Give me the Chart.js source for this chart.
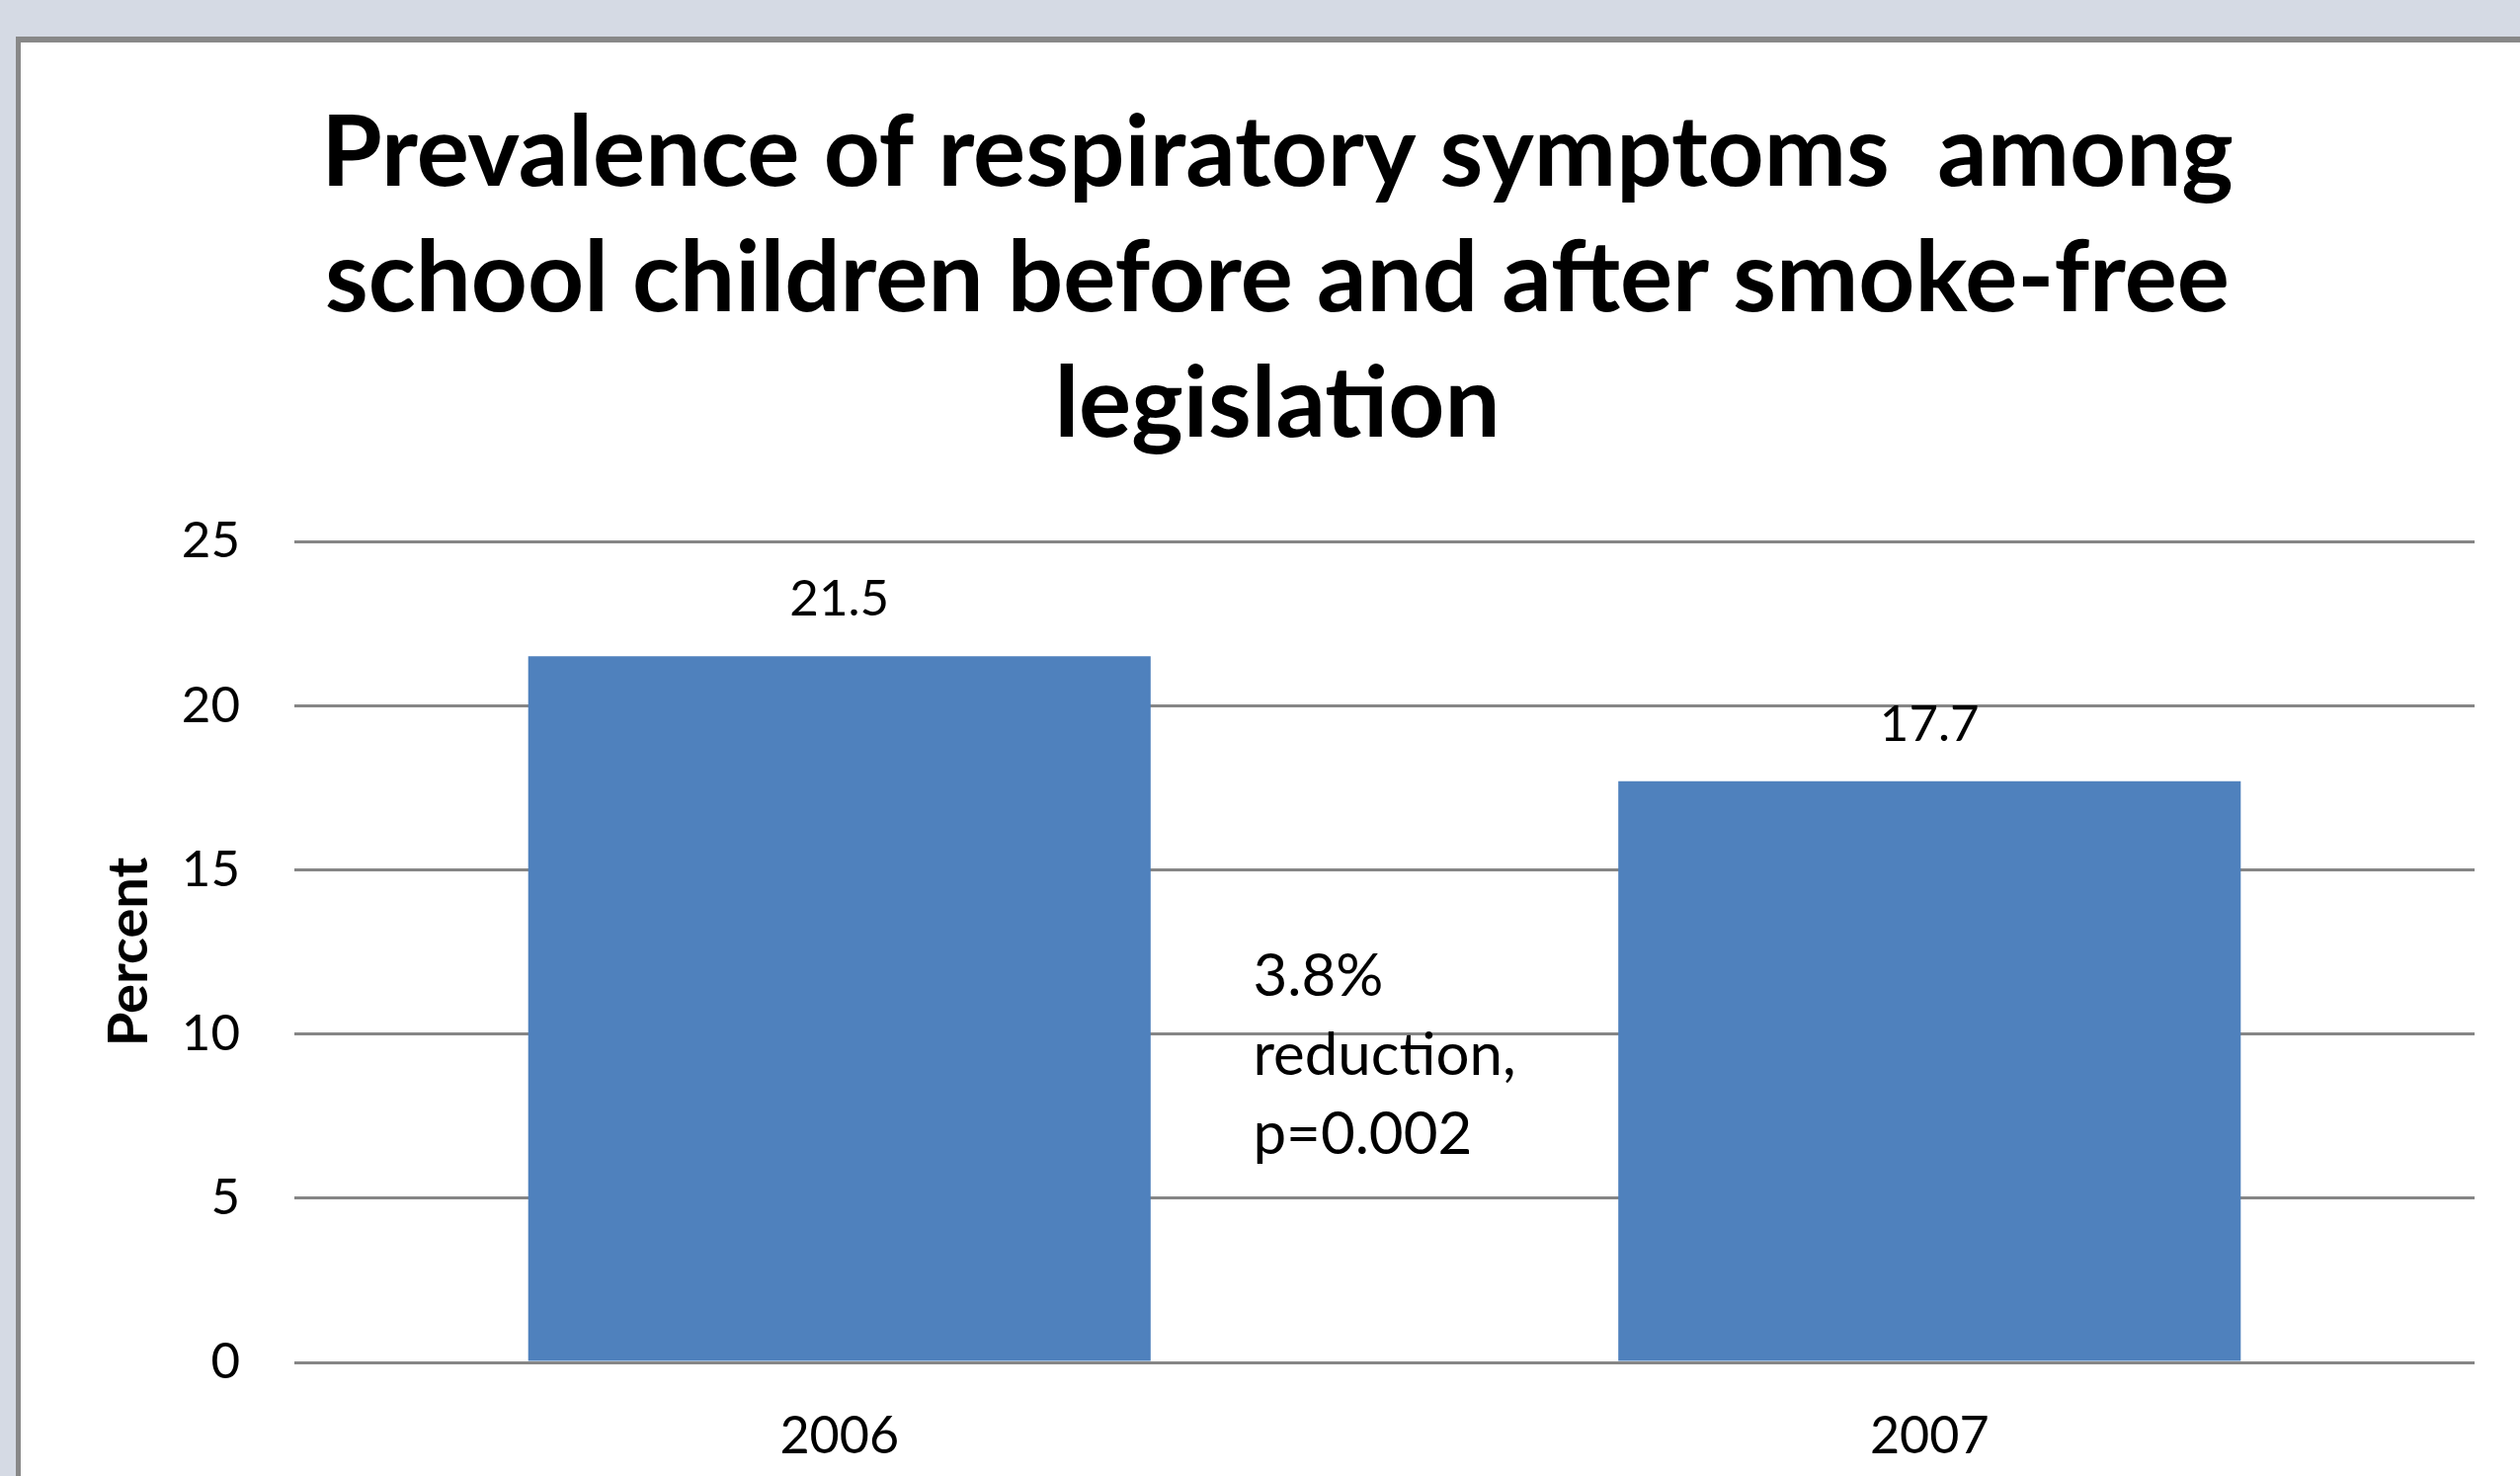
<!DOCTYPE html>
<html>
<head>
<meta charset="utf-8">
<title>Prevalence of respiratory symptoms</title>
<script src="https://cdn.jsdelivr.net/npm/chart.js@4.4.1/dist/chart.umd.min.js"></script>
<style>
  html, body { margin: 0; padding: 0; width: 2551px; height: 1494px; overflow: hidden; background: #d5dae4; }
  #panel { position: absolute; left: 16px; top: 37px; width: 2600px; height: 1500px;
           background: #ffffff; border-left: 5px solid #888888; border-top: 6px solid #888888; }
  #chart { position: absolute; left: 0; top: 0; }
</style>
</head>
<body>
<div id="panel"></div>
<canvas id="chart" width="2551" height="1494"></canvas>
<script>
// Survey years and share of children with respiratory symptoms (%)
const years = ['2006', '2007'];
const prevalence = [21.5, 17.7];

// Value axis range and step
const yMin = 0;
const yMax = 25;
const yStep = 5;

const titleLines = [
  'Prevalence of respiratory symptoms  among',
  'school children before and after smoke-free',
  'legislation'
];
const yAxisTitle = 'Percent';
const noteLines = ['3.8%', 'reduction,', 'p=0.002'];
const noteYValue = 8.75;

const FONT = 'Lato, "Open Sans", sans-serif';

// Value labels above each bar
const barValueLabels = {
  id: 'barValueLabels',
  afterDatasetsDraw(chart) {
    const ctx = chart.ctx;
    const meta = chart.getDatasetMeta(0);
    ctx.save();
    ctx.font = '51px ' + FONT;
    ctx.fillStyle = '#000000';
    ctx.textAlign = 'center';
    ctx.textBaseline = 'alphabetic';
    meta.data.forEach((bar, i) => {
      ctx.fillText(String(prevalence[i]), bar.x, bar.y - 41);
    });
    ctx.restore();
  }
};

// Note between the two bars
const reductionNote = {
  id: 'reductionNote',
  afterDatasetsDraw(chart) {
    const ctx = chart.ctx;
    const meta = chart.getDatasetMeta(0);
    const xMid = (meta.data[0].x + meta.data[1].x) / 2;
    const yBase = chart.scales.y.getPixelForValue(noteYValue);
    ctx.save();
    ctx.font = '60px ' + FONT;
    ctx.fillStyle = '#000000';
    ctx.textAlign = 'left';
    ctx.textBaseline = 'alphabetic';
    const blockW = Math.max(...noteLines.map(t => ctx.measureText(t).width));
    const left = xMid - blockW / 2;
    noteLines.forEach((t, i) => {
      ctx.fillText(t, left, yBase + (i - 1) * 80);
    });
    ctx.restore();
  }
};

new Chart(document.getElementById('chart'), {
  type: 'bar',
  data: {
    labels: years,
    datasets: [{
      data: prevalence,
      backgroundColor: '#4f81bd',
      borderWidth: 0,
      categoryPercentage: 1.0,
      barPercentage: 0.571
    }]
  },
  options: {
    responsive: false,
    animation: false,
    devicePixelRatio: 1,
    layout: { padding: { left: 81, right: 46, top: 40, bottom: 0 } },
    plugins: {
      legend: { display: false },
      tooltip: { enabled: false },
      title: {
        display: true,
        text: titleLines,
        color: '#000000',
        font: { family: FONT, size: 99.5, weight: 'bold', lineHeight: 127 / 99.5 },
        padding: { top: 52.5, bottom: 74.5 }
      }
    },
    scales: {
      x: {
        grid: { display: false, drawTicks: false },
        border: { display: false },
        ticks: {
          color: '#000000',
          font: { family: FONT, size: 52 },
          padding: 44
        },
        afterFit(scale) { scale.height = 115; }
      },
      y: {
        min: yMin,
        max: yMax,
        ticks: {
          stepSize: yStep,
          color: '#000000',
          font: { family: FONT, size: 51 },
          padding: 55
        },
        grid: { color: '#868686', lineWidth: 3, drawTicks: false },
        border: { display: false },
        title: {
          display: true,
          text: yAxisTitle,
          color: '#000000',
          font: { family: FONT, size: 56, weight: 'bold' },
          padding: { top: 16, bottom: 0 }
        },
        afterFit(scale) { scale.width = 217; }
      }
    }
  },
  plugins: [barValueLabels, reductionNote]
});
</script>
</body>
</html>
